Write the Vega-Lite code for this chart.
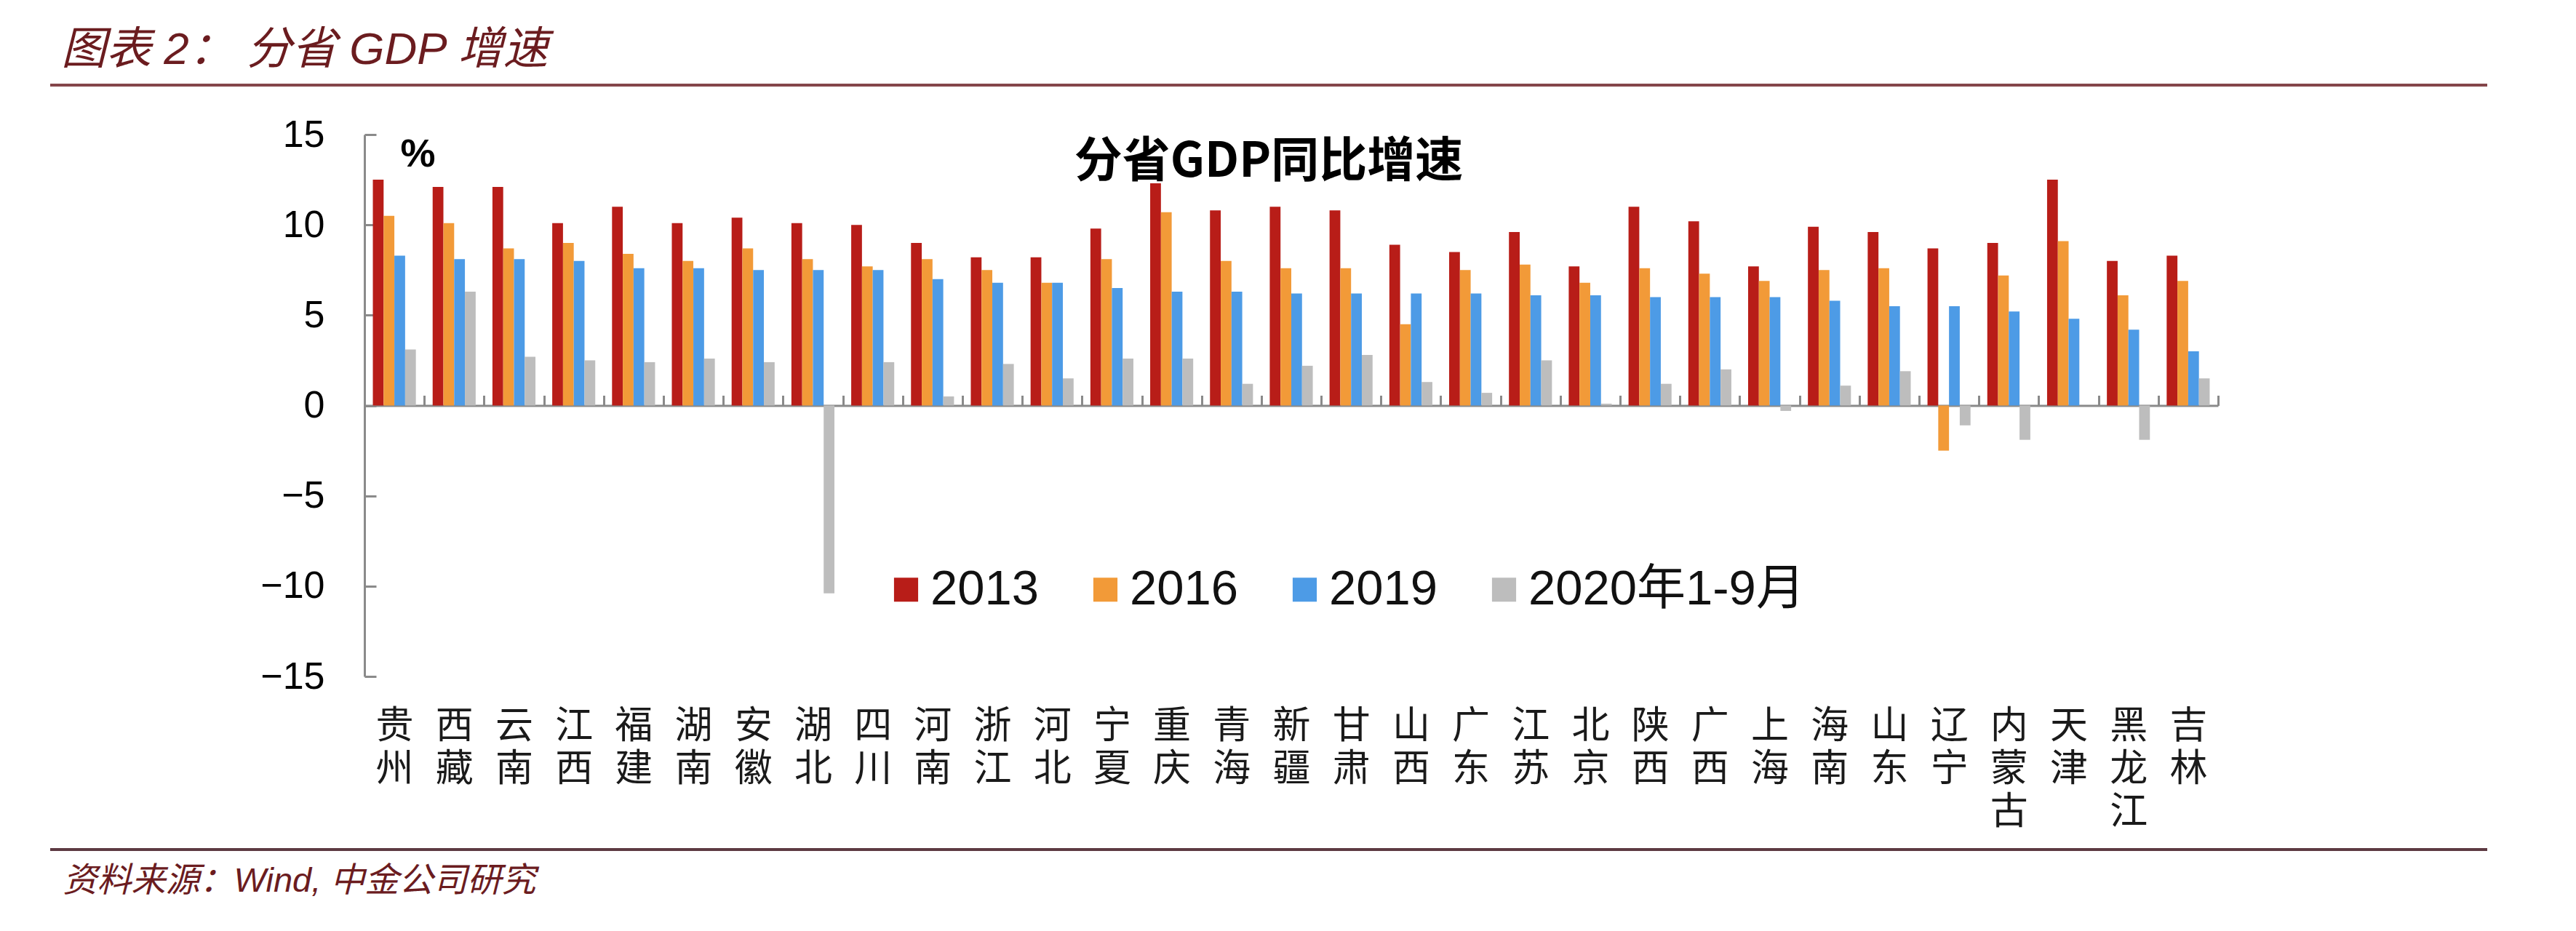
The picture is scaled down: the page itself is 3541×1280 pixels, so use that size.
{
  "$schema": "https://vega.github.io/schema/vega-lite/v6.json",
  "width": 3350,
  "height": 1280,
  "autosize": {"type": "none"},
  "padding": {"left": 69, "top": 0, "right": 122, "bottom": 0},
  "background": "white",
  "config": {"view": {"stroke": null}},
  "title": {
    "text": "图表 2：\u00a0分省 GDP 增速",
    "anchor": "start",
    "frame": "group",
    "dx": 15,
    "dy": 150,
    "offset": 0,
    "baseline": "alphabetic",
    "font": "Liberation Sans, Noto Sans CJK SC",
    "fontSize": 62,
    "fontStyle": "italic",
    "fontWeight": "normal",
    "color": "#6b1c1f"
  },
  "resolve": {"axis": {"x": "independent", "y": "independent"}},
  "data": {
    "values": [
      {"province": "贵州", "year": "2013", "value": 12.5},
      {"province": "贵州", "year": "2016", "value": 10.5},
      {"province": "贵州", "year": "2019", "value": 8.3},
      {"province": "贵州", "year": "2020年1-9月", "value": 3.1},
      {"province": "西藏", "year": "2013", "value": 12.1},
      {"province": "西藏", "year": "2016", "value": 10.1},
      {"province": "西藏", "year": "2019", "value": 8.1},
      {"province": "西藏", "year": "2020年1-9月", "value": 6.3},
      {"province": "云南", "year": "2013", "value": 12.1},
      {"province": "云南", "year": "2016", "value": 8.7},
      {"province": "云南", "year": "2019", "value": 8.1},
      {"province": "云南", "year": "2020年1-9月", "value": 2.7},
      {"province": "江西", "year": "2013", "value": 10.1},
      {"province": "江西", "year": "2016", "value": 9.0},
      {"province": "江西", "year": "2019", "value": 8.0},
      {"province": "江西", "year": "2020年1-9月", "value": 2.5},
      {"province": "福建", "year": "2013", "value": 11.0},
      {"province": "福建", "year": "2016", "value": 8.4},
      {"province": "福建", "year": "2019", "value": 7.6},
      {"province": "福建", "year": "2020年1-9月", "value": 2.4},
      {"province": "湖南", "year": "2013", "value": 10.1},
      {"province": "湖南", "year": "2016", "value": 8.0},
      {"province": "湖南", "year": "2019", "value": 7.6},
      {"province": "湖南", "year": "2020年1-9月", "value": 2.6},
      {"province": "安徽", "year": "2013", "value": 10.4},
      {"province": "安徽", "year": "2016", "value": 8.7},
      {"province": "安徽", "year": "2019", "value": 7.5},
      {"province": "安徽", "year": "2020年1-9月", "value": 2.4},
      {"province": "湖北", "year": "2013", "value": 10.1},
      {"province": "湖北", "year": "2016", "value": 8.1},
      {"province": "湖北", "year": "2019", "value": 7.5},
      {"province": "湖北", "year": "2020年1-9月", "value": -10.4},
      {"province": "四川", "year": "2013", "value": 10.0},
      {"province": "四川", "year": "2016", "value": 7.7},
      {"province": "四川", "year": "2019", "value": 7.5},
      {"province": "四川", "year": "2020年1-9月", "value": 2.4},
      {"province": "河南", "year": "2013", "value": 9.0},
      {"province": "河南", "year": "2016", "value": 8.1},
      {"province": "河南", "year": "2019", "value": 7.0},
      {"province": "河南", "year": "2020年1-9月", "value": 0.5},
      {"province": "浙江", "year": "2013", "value": 8.2},
      {"province": "浙江", "year": "2016", "value": 7.5},
      {"province": "浙江", "year": "2019", "value": 6.8},
      {"province": "浙江", "year": "2020年1-9月", "value": 2.3},
      {"province": "河北", "year": "2013", "value": 8.2},
      {"province": "河北", "year": "2016", "value": 6.8},
      {"province": "河北", "year": "2019", "value": 6.8},
      {"province": "河北", "year": "2020年1-9月", "value": 1.5},
      {"province": "宁夏", "year": "2013", "value": 9.8},
      {"province": "宁夏", "year": "2016", "value": 8.1},
      {"province": "宁夏", "year": "2019", "value": 6.5},
      {"province": "宁夏", "year": "2020年1-9月", "value": 2.6},
      {"province": "重庆", "year": "2013", "value": 12.3},
      {"province": "重庆", "year": "2016", "value": 10.7},
      {"province": "重庆", "year": "2019", "value": 6.3},
      {"province": "重庆", "year": "2020年1-9月", "value": 2.6},
      {"province": "青海", "year": "2013", "value": 10.8},
      {"province": "青海", "year": "2016", "value": 8.0},
      {"province": "青海", "year": "2019", "value": 6.3},
      {"province": "青海", "year": "2020年1-9月", "value": 1.2},
      {"province": "新疆", "year": "2013", "value": 11.0},
      {"province": "新疆", "year": "2016", "value": 7.6},
      {"province": "新疆", "year": "2019", "value": 6.2},
      {"province": "新疆", "year": "2020年1-9月", "value": 2.2},
      {"province": "甘肃", "year": "2013", "value": 10.8},
      {"province": "甘肃", "year": "2016", "value": 7.6},
      {"province": "甘肃", "year": "2019", "value": 6.2},
      {"province": "甘肃", "year": "2020年1-9月", "value": 2.8},
      {"province": "山西", "year": "2013", "value": 8.9},
      {"province": "山西", "year": "2016", "value": 4.5},
      {"province": "山西", "year": "2019", "value": 6.2},
      {"province": "山西", "year": "2020年1-9月", "value": 1.3},
      {"province": "广东", "year": "2013", "value": 8.5},
      {"province": "广东", "year": "2016", "value": 7.5},
      {"province": "广东", "year": "2019", "value": 6.2},
      {"province": "广东", "year": "2020年1-9月", "value": 0.7},
      {"province": "江苏", "year": "2013", "value": 9.6},
      {"province": "江苏", "year": "2016", "value": 7.8},
      {"province": "江苏", "year": "2019", "value": 6.1},
      {"province": "江苏", "year": "2020年1-9月", "value": 2.5},
      {"province": "北京", "year": "2013", "value": 7.7},
      {"province": "北京", "year": "2016", "value": 6.8},
      {"province": "北京", "year": "2019", "value": 6.1},
      {"province": "北京", "year": "2020年1-9月", "value": 0.1},
      {"province": "陕西", "year": "2013", "value": 11.0},
      {"province": "陕西", "year": "2016", "value": 7.6},
      {"province": "陕西", "year": "2019", "value": 6.0},
      {"province": "陕西", "year": "2020年1-9月", "value": 1.2},
      {"province": "广西", "year": "2013", "value": 10.2},
      {"province": "广西", "year": "2016", "value": 7.3},
      {"province": "广西", "year": "2019", "value": 6.0},
      {"province": "广西", "year": "2020年1-9月", "value": 2.0},
      {"province": "上海", "year": "2013", "value": 7.7},
      {"province": "上海", "year": "2016", "value": 6.9},
      {"province": "上海", "year": "2019", "value": 6.0},
      {"province": "上海", "year": "2020年1-9月", "value": -0.3},
      {"province": "海南", "year": "2013", "value": 9.9},
      {"province": "海南", "year": "2016", "value": 7.5},
      {"province": "海南", "year": "2019", "value": 5.8},
      {"province": "海南", "year": "2020年1-9月", "value": 1.1},
      {"province": "山东", "year": "2013", "value": 9.6},
      {"province": "山东", "year": "2016", "value": 7.6},
      {"province": "山东", "year": "2019", "value": 5.5},
      {"province": "山东", "year": "2020年1-9月", "value": 1.9},
      {"province": "辽宁", "year": "2013", "value": 8.7},
      {"province": "辽宁", "year": "2016", "value": -2.5},
      {"province": "辽宁", "year": "2019", "value": 5.5},
      {"province": "辽宁", "year": "2020年1-9月", "value": -1.1},
      {"province": "内蒙古", "year": "2013", "value": 9.0},
      {"province": "内蒙古", "year": "2016", "value": 7.2},
      {"province": "内蒙古", "year": "2019", "value": 5.2},
      {"province": "内蒙古", "year": "2020年1-9月", "value": -1.9},
      {"province": "天津", "year": "2013", "value": 12.5},
      {"province": "天津", "year": "2016", "value": 9.1},
      {"province": "天津", "year": "2019", "value": 4.8},
      {"province": "天津", "year": "2020年1-9月", "value": 0.0},
      {"province": "黑龙江", "year": "2013", "value": 8.0},
      {"province": "黑龙江", "year": "2016", "value": 6.1},
      {"province": "黑龙江", "year": "2019", "value": 4.2},
      {"province": "黑龙江", "year": "2020年1-9月", "value": -1.9},
      {"province": "吉林", "year": "2013", "value": 8.3},
      {"province": "吉林", "year": "2016", "value": 6.9},
      {"province": "吉林", "year": "2019", "value": 3.0},
      {"province": "吉林", "year": "2020年1-9月", "value": 1.5}
    ]
  },
  "layer": [
    {
      "data": {"values": [{"line": "top"}]},
      "mark": {"type": "rule", "color": "#84464a", "strokeWidth": 4},
      "encoding": {
        "y": {"datum": 17.74, "type": "quantitative", "axis": null}
      }
    },
    {
      "data": {"values": [{"line": "bottom"}]},
      "mark": {"type": "rule", "color": "#5d3a42", "strokeWidth": 4},
      "encoding": {
        "y": {"datum": -24.58, "type": "quantitative", "axis": null}
      }
    },
    {
      "mark": {"type": "bar"},
      "encoding": {
        "x": {
          "field": "province",
          "type": "nominal",
          "sort": null,
          "scale": {"range": [432, 2980], "paddingInner": 0, "paddingOuter": 0},
          "axis": {
            "orient": "bottom",
            "offset": -722.5,
            "domain": true,
            "domainColor": "#8a8a8a",
            "domainWidth": 3,
            "ticks": true,
            "tickBand": "extent",
            "tickSize": -14,
            "tickColor": "#8a8a8a",
            "tickWidth": 3,
            "labelAngle": 0,
            "labelAlign": "center",
            "labelBaseline": "top",
            "labelPadding": 430,
            "labelExpr": "split(datum.label, '')",
            "labelLineHeight": 59,
            "labelFont": "Noto Sans CJK SC",
            "labelFontSize": 52,
            "labelColor": "#1a1a1a",
            "labelOverlap": false,
            "title": "资料来源：Wind, 中金公司研究",
            "titleX": 17,
            "titleY": 668,
            "titleAlign": "left",
            "titleAnchor": "start",
            "titleBaseline": "alphabetic",
            "titleFont": "Liberation Sans, Noto Sans CJK SC",
            "titleFontSize": 47,
            "titleFontStyle": "italic",
            "titleFontWeight": "normal",
            "titleColor": "#6b1c1f"
          }
        },
        "xOffset": {
          "field": "year",
          "type": "nominal",
          "sort": ["2013", "2016", "2019", "2020年1-9月"],
          "scale": {"paddingInner": 0, "paddingOuter": 0.78}
        },
        "y": {
          "field": "value",
          "type": "quantitative",
          "stack": null,
          "scale": {"domain": [-15, 15], "range": [930, 185], "nice": false, "zero": false},
          "axis": {
            "orient": "left",
            "offset": -432,
            "values": [-15, -10, -5, 0, 5, 10, 15],
            "grid": false,
            "domain": true,
            "domainColor": "#8a8a8a",
            "domainWidth": 3,
            "ticks": true,
            "tickSize": -16,
            "tickColor": "#8a8a8a",
            "tickWidth": 3,
            "labelPadding": 71,
            "labelFont": "Liberation Sans",
            "labelFontSize": 52,
            "labelColor": "#000000",
            "labelAlign": "right",
            "labelBaseline": "middle",
            "title": "%",
            "titleAngle": 0,
            "titleX": 49,
            "titleY": 185,
            "titleAlign": "left",
            "titleBaseline": "top",
            "titleFont": "Liberation Sans",
            "titleFontSize": 54,
            "titleFontWeight": "bold",
            "titleColor": "#000000"
          }
        },
        "color": {
          "field": "year",
          "type": "nominal",
          "scale": {
            "domain": ["2013", "2016", "2019", "2020年1-9月"],
            "range": ["#B81D18", "#F29A38", "#4D9BE6", "#BDBDBD"]
          },
          "legend": {
            "title": null,
            "orient": "none",
            "direction": "horizontal",
            "columns": 4,
            "legendX": 1143,
            "legendY": 777,
            "padding": 0,
            "symbolType": "square",
            "symbolSize": 1100,
            "symbolStrokeWidth": 0,
            "labelFont": "Liberation Sans, Noto Sans CJK SC",
            "labelFontSize": 67,
            "labelColor": "#111111",
            "labelOffset": 0,
            "columnPadding": 57,
            "labelLimit": 1000
          }
        }
      }
    },
    {
      "data": {"values": [{"label": "分省GDP同比增速"}]},
      "mark": {
        "type": "text",
        "font": "Noto Sans CJK SC",
        "fontSize": 66,
        "fontWeight": "bold",
        "color": "#000000",
        "align": "center",
        "baseline": "middle",
        "dx": -31
      },
      "encoding": {
        "x": {"datum": "新疆", "type": "nominal", "axis": null},
        "y": {"datum": 13.45, "type": "quantitative", "axis": null},
        "text": {"field": "label", "type": "nominal"}
      }
    }
  ]
}
